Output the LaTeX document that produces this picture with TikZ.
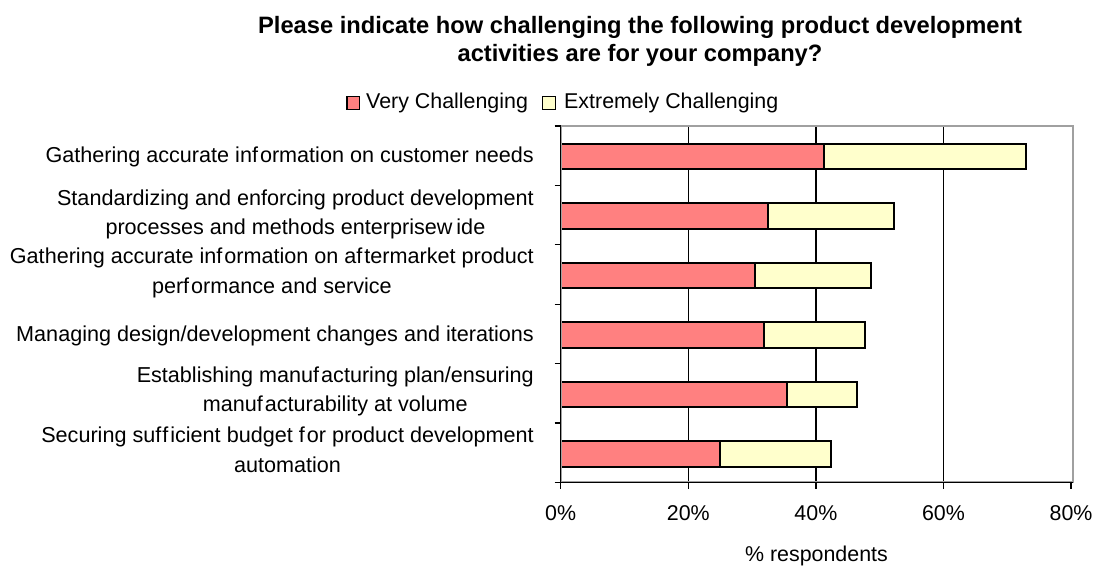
\documentclass[tikz,border=0pt]{standalone}
\usepackage{fontspec}
\setmainfont{Liberation Sans}
\definecolor{redfill}{HTML}{FF8080}
\definecolor{yelfill}{HTML}{FFFFCC}
\definecolor{framegray}{HTML}{A0A0A0}
\begin{document}
\begin{tikzpicture}[x=1pt,y=-1pt,
  lab/.style={font=\fontsize{21.6}{29.5}\selectfont, inner sep=0pt, align=center, anchor=east},
  ticklab/.style={font=\fontsize{21.4}{26}\selectfont, inner sep=0pt, anchor=base},
  titlestyle/.style={font=\bfseries\fontsize{23.7}{28}\selectfont, inner sep=0pt, align=center},
  vbar/.style={draw=black, line width=2pt, fill=redfill},
  ebar/.style={draw=black, line width=2pt, fill=yelfill},
  gridline/.style={black, line width=1.2pt},
  frameline/.style={draw=framegray, line width=2pt},
  axisline/.style={black, line width=1.3pt},
  legbox/.style={draw=black, line width=1.3pt, minimum size=12.5pt, inner sep=0pt},
]
\useasboundingbox (0,0) rectangle (1096,567);
\def\xo{560.7}
\def\xs{6.38}
% title
\node[titlestyle] (title) at (640,41.3) {Please indicate how challenging the following product development\\activities are for your company?};
% legend
\node[legbox, fill=redfill] (legv) at (353.2,103) {};
\node[ticklab, anchor=base west] (legvt) at (366,108.3) {Very Challenging};
\node[legbox, fill=yelfill] (lege) at (548.9,103) {};
\node[ticklab, anchor=base west] (leget) at (564,108.3) {Extremely Challenging};
% gridlines
\foreach \p in {20,40,60} {
  \draw[gridline] ({\xo+\xs*\p},126) -- ({\xo+\xs*\p},482.4);
}
% bars
\foreach \i/\r/\t in {1/41.3/73.0, 2/32.5/52.3, 3/30.5/48.7, 4/31.8/47.7, 5/35.5/46.5, 6/25.0/42.3} {
  \pgfmathsetmacro{\yc}{126+59.4*(\i-0.5)+1}
  \draw[vbar] (\xo,{\yc-12.8}) rectangle ({\xo+\xs*\r},{\yc+12.8});
  \draw[ebar] ({\xo+\xs*\r},{\yc-12.8}) rectangle ({\xo+\xs*\t},{\yc+12.8});
}
% frame
\draw[frameline] (\xo,126) rectangle (1072.5,482.4);
\draw[axisline] (\xo,126) -- (\xo,482.4) -- (1072.5,482.4);
% ticks
\foreach \k in {0,...,6} {
  \draw[axisline] ({\xo-6},{126+59.4*\k}) -- (\xo,{126+59.4*\k});
}
\foreach \p in {0,20,40,60,80} {
  \draw[axisline] ({\xo+\xs*\p},482.4) -- ({\xo+\xs*\p},489);
  \node[ticklab] (tl\p) at ({\xo+\xs*\p},520.7) {\p\%};
}
\node[ticklab] (xtitle) at (816.5,561.7) {\% respondents};
% category labels
\node[lab] (c1) at (534,156.5) {Gathering accurate inf\kern2pt ormation on customer needs};
\node[lab] (c2) at (534,214.5) {Standardizing and enforcing product development\\processes and methods enterprisew\kern4pt ide};
\node[lab] (c3) at (534,272.9) {Gathering accurate inf\kern2pt ormation on af\kern2pt termarket product\\perf\kern2pt ormance and service};
\node[lab] (c4) at (534,336) {Managing design/development changes and iterations};
\node[lab] (c5) at (534,391.2) {Establishing manuf\kern2pt acturing plan/ensuring\\manuf\kern2pt acturability at volume};
\node[lab] (c6) at (534,450) {Securing suf\kern1pt f\kern2pt icient budget f\kern2pt or product development\\automation};
\end{tikzpicture}
\end{document}
